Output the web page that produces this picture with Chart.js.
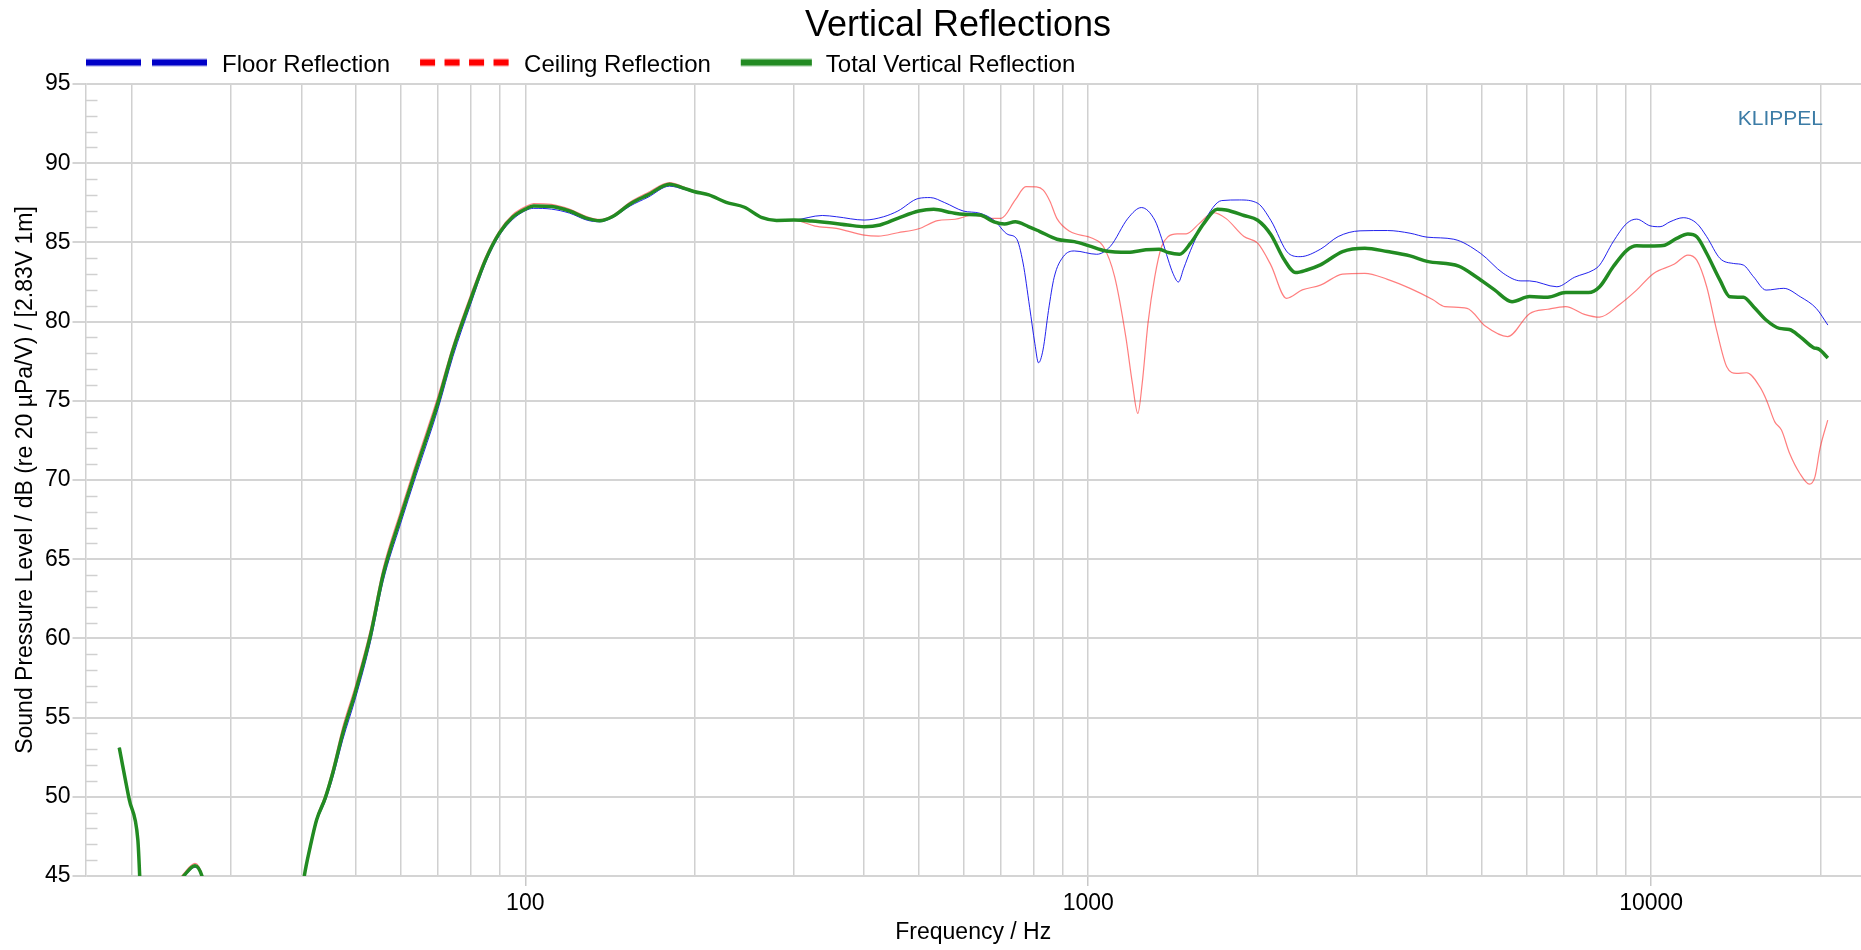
<!DOCTYPE html>
<html lang="en">
<head>
  <meta charset="UTF-8" />
  <title>Vertical Reflections</title>
  <script src="https://cdn.jsdelivr.net/npm/chart.js"></script>
  <style>
    html, body { margin: 0; padding: 0; background: #fff; }
    #wrap { width: 1861px; height: 950px; position: relative; }
  </style>
</head>
<body>
  <div id="wrap"><canvas id="chart"></canvas></div>

  <script>
    // values (Hz / dB)
    const floorHz = [19.0, 19.8, 20.5, 20.9, 23.6, 24.8, 25.9, 26.7, 27.5, 39.6, 40.5, 41.5, 42.6, 44.1, 45.5, 47.4, 50, 53.1, 55.9, 60, 64, 70, 74.4, 80, 85, 90, 95, 100, 103.5, 111.3, 119.8, 128.8, 135.6, 142.7, 153.6, 165.2, 180.4, 191.3, 200, 211.9, 227.5, 245.1, 263.5, 279.5, 300, 337, 357, 400, 433, 459, 500, 524, 556, 600, 642, 680, 720, 745, 766, 787, 804, 816, 831, 850, 870, 903, 945, 1035, 1094, 1177, 1243, 1313, 1350, 1387, 1414, 1446, 1478, 1520, 1605, 1726, 1856, 2000, 2110, 2270, 2380, 2585, 2780, 3040, 3400, 3730, 4000, 4460, 4980, 5460, 5870, 6080, 6800, 7310, 7900, 8100, 8560, 9050, 9420, 9950, 10370, 10800, 11400, 12050, 12550, 13250, 14000, 14580, 15200, 16000, 17200, 18400, 19650, 20600];
    const floorDb = [53.1, 49.8, 47.3, 42.0, 43.9, 44.95, 45.55, 44.85, 42.5, 42.5, 44.9, 46.7, 48.4, 49.7, 51.2, 53.6, 56.3, 59.8, 63.6, 67.2, 70.3, 74.5, 77.8, 81.1, 83.7, 85.45, 86.45, 87.0, 87.15, 87.1, 86.85, 86.4, 86.3, 86.55, 87.3, 87.85, 88.55, 88.35, 88.15, 87.97, 87.5, 87.2, 86.55, 86.39, 86.41, 86.7, 86.62, 86.41, 86.62, 86.98, 87.78, 87.83, 87.51, 86.98, 86.84, 86.4, 85.5, 85.26, 83.7, 80.9, 78.6, 77.4, 78.2, 80.7, 82.8, 84.1, 84.46, 84.25, 84.74, 86.53, 87.2, 86.4, 85.26, 83.9, 83.05, 82.5, 83.37, 84.5, 86.3, 87.64, 87.68, 87.47, 86.4, 84.3, 84.1, 84.57, 85.37, 85.73, 85.75, 85.58, 85.33, 85.2, 84.3, 83.05, 82.57, 82.57, 82.2, 82.8, 83.26, 83.57, 85.04, 86.2, 86.47, 86.05, 85.99, 86.3, 86.56, 86.2, 85.36, 83.99, 83.67, 83.57, 82.83, 81.99, 82.1, 81.57, 80.83, 79.78];

    const ceilingHz = [19.0, 19.8, 20.5, 20.9, 23.6, 24.8, 25.9, 26.7, 27.5, 39.6, 40.5, 41.5, 42.6, 44.1, 45.5, 47.4, 50, 53.1, 55.9, 60, 64, 70, 74.4, 80, 85, 90, 95, 100, 103.5, 111.3, 119.8, 128.8, 135.6, 142.7, 153.6, 165.2, 180.4, 191.3, 200, 211.9, 227.5, 245.1, 263.5, 279.5, 300, 327, 357, 400, 424, 459, 500, 540, 580, 625, 670, 700, 742, 775, 809, 832, 855, 880, 927, 1017, 1064, 1114, 1166, 1198, 1225, 1247, 1277, 1313, 1350, 1387, 1439, 1493, 1576, 1668, 1758, 1891, 2000, 2110, 2250, 2400, 2585, 2830, 3100, 3400, 3730, 4090, 4300, 4710, 5080, 5560, 6080, 6550, 7050, 7610, 8100, 8800, 9420, 10100, 11000, 11620, 12050, 12550, 13070, 13620, 14180, 14780, 15600, 16030, 16580, 17040, 17620, 18370, 19100, 19540, 19950, 20590];
    const ceilingDb = [53.1, 49.8, 47.3, 42.0, 44.2, 45.2, 45.8, 45.0, 42.5, 42.5, 45.1, 47.0, 48.7, 50.1, 51.8, 54.4, 57.1, 60.6, 64.4, 68.0, 71.1, 75.3, 78.5, 81.7, 84.1, 85.75, 86.75, 87.25, 87.45, 87.4, 87.1, 86.62, 86.45, 86.7, 87.55, 88.15, 88.78, 88.5, 88.25, 88.03, 87.55, 87.24, 86.57, 86.39, 86.41, 86.03, 85.89, 85.46, 85.4, 85.61, 85.86, 86.37, 86.46, 86.73, 86.52, 86.52, 87.68, 88.52, 88.5, 88.3, 87.6, 86.5, 85.7, 85.26, 84.74, 82.84, 79.05, 76.1, 74.2, 76.1, 79.9, 82.84, 84.74, 85.37, 85.54, 85.54, 86.2, 86.88, 86.5, 85.37, 84.95, 83.58, 81.47, 82.0, 82.3, 83.0, 83.05, 82.67, 82.1, 81.4, 80.95, 80.84, 79.7, 79.05, 80.5, 80.78, 80.95, 80.46, 80.28, 81.1, 81.99, 83.04, 83.63, 84.2, 83.88, 82.2, 79.46, 77.15, 76.73, 76.77, 75.88, 75.04, 73.67, 73.15, 71.67, 70.41, 69.74, 70.2, 71.99, 73.78];

    const totalHz = [19.0, 19.8, 20.5, 20.9, 23.6, 24.8, 25.9, 26.7, 27.5, 39.6, 40.5, 41.5, 42.6, 44.1, 45.5, 47.4, 50, 53.1, 55.9, 60, 64, 70, 74.4, 80, 85, 90, 95, 100, 103.5, 111.3, 119.8, 128.8, 135.6, 142.7, 153.6, 165.2, 180.4, 191.3, 200, 211.9, 227.5, 245.1, 263.5, 279.5, 300, 323, 347.5, 373.9, 400, 426.9, 458.7, 500, 531.5, 571.8, 600, 642, 680, 710, 742, 783, 819, 880, 945, 1000, 1074, 1177, 1266, 1337, 1387, 1452, 1520, 1605, 1695, 1758, 1891, 2000, 2110, 2230, 2335, 2445, 2585, 2830, 3100, 3400, 3730, 4000, 4550, 4900, 5270, 5660, 6080, 6550, 7050, 7740, 8100, 8560, 9050, 9420, 9950, 10500, 11100, 11620, 12050, 12550, 13250, 13800, 14580, 15200, 16000, 16900, 17600, 18400, 19400, 19900, 20600];
    const totalDb = [53.1, 49.8, 47.3, 42.0, 44.0, 45.05, 45.65, 44.9, 42.5, 42.5, 45.0, 46.85, 48.55, 49.9, 51.5, 54.0, 56.7, 60.2, 64.0, 67.6, 70.7, 74.9, 78.2, 81.4, 83.9, 85.6, 86.6, 87.1, 87.3, 87.26, 86.98, 86.52, 86.37, 86.62, 87.43, 88.0, 88.67, 88.42, 88.2, 88.0, 87.53, 87.22, 86.56, 86.39, 86.41, 86.35, 86.24, 86.1, 85.99, 86.1, 86.52, 86.98, 87.09, 86.88, 86.77, 86.73, 86.3, 86.16, 86.3, 86.0, 85.7, 85.2, 85.05, 84.8, 84.46, 84.38, 84.53, 84.57, 84.36, 84.25, 84.95, 86.2, 87.1, 87.05, 86.7, 86.4, 85.5, 83.9, 83.1, 83.26, 83.58, 84.42, 84.63, 84.42, 84.15, 83.8, 83.5, 82.8, 82.0, 81.26, 81.58, 81.54, 81.83, 81.83, 82.2, 83.46, 84.5, 84.79, 84.77, 84.8, 85.25, 85.53, 85.36, 84.3, 82.62, 81.57, 81.53, 80.94, 80.1, 79.57, 79.5, 79.04, 78.37, 78.24, 77.7];

    const xGridHz = [20, 30, 40, 50, 60, 70, 80, 90, 100, 200, 300, 400, 500, 600, 700, 800, 900, 1000, 2000, 3000, 4000, 5000, 6000, 7000, 8000, 9000, 10000, 20000];
    const xLabelHz = [100, 1000, 10000];
    const yTicks = [45, 50, 55, 60, 65, 70, 75, 80, 85, 90, 95];

    const seriesNames = ['Floor Reflection', 'Ceiling Reflection', 'Total Vertical Reflection'];

    Chart.defaults.font.family = "'Liberation Sans', Arial, sans-serif";
    Chart.defaults.color = '#000';

    const pts = (hz, db) => hz.map((f, i) => ({ x: f, y: db[i] }));

    // title, legend, logo text and the 1 dB minor ticks
    const decor = {
      id: 'decor',
      beforeDatasetsDraw(chart) {
        const { ctx, chartArea, scales } = chart;
        ctx.save();
        ctx.strokeStyle = '#d0d0d0';
        ctx.lineWidth = 1.5;
        for (let v = 46; v < 95; v++) {
          if (v % 5 === 0) continue;
          const py = Math.round(scales.y.getPixelForValue(v)) + 0.5;
          ctx.beginPath();
          ctx.moveTo(chartArea.left, py);
          ctx.lineTo(chartArea.left + 12, py);
          ctx.stroke();
        }
        ctx.restore();
      },
      afterDraw(chart) {
        const { ctx } = chart;
        ctx.save();
        ctx.fillStyle = '#000';
        ctx.textAlign = 'center';
        ctx.textBaseline = 'alphabetic';
        ctx.font = "36px 'Liberation Sans', Arial, sans-serif";
        ctx.fillText('Vertical Reflections', 958, 36);

        // legend
        const items = [
          { color: '#0000c8', halo: 'rgba(0,0,200,0.25)', dash: [55, 11], w: 122 },
          { color: '#ff0000', halo: 'rgba(255,0,0,0.25)', dash: [15, 9.5], w: 90 },
          { color: '#228b22', halo: 'rgba(34,139,34,0.3)', dash: [], w: 71 }
        ];
        ctx.font = "24px 'Liberation Sans', Arial, sans-serif";
        ctx.textAlign = 'left';
        let x = 86;
        const ly = 62.5;
        items.forEach((it, i) => {
          ctx.setLineDash(it.dash);
          ctx.lineCap = 'butt';
          ctx.strokeStyle = it.halo;
          ctx.lineWidth = 8.5;
          ctx.beginPath(); ctx.moveTo(x, ly); ctx.lineTo(x + it.w, ly); ctx.stroke();
          ctx.strokeStyle = it.color;
          ctx.lineWidth = 6;
          ctx.beginPath(); ctx.moveTo(x, ly); ctx.lineTo(x + it.w, ly); ctx.stroke();
          ctx.setLineDash([]);
          const tx = x + it.w + 14;
          ctx.fillStyle = '#000';
          ctx.fillText(seriesNames[i], tx, 71.5);
          x = tx + ctx.measureText(seriesNames[i]).width + 30;
        });

        ctx.font = "21px 'Liberation Sans', Arial, sans-serif";
        ctx.textAlign = 'right';
        ctx.fillStyle = '#3c7ca6';
        ctx.fillText('KLIPPEL', 1823, 125);
        ctx.restore();
      }
    };

    new Chart(document.getElementById('chart'), {
      type: 'line',
      data: {
        datasets: [
          {
            label: seriesNames[0],
            data: pts(floorHz, floorDb),
            borderColor: 'rgba(10,10,235,0.9)',
            borderWidth: 1,
            order: 1
          },
          {
            label: seriesNames[1],
            data: pts(ceilingHz, ceilingDb),
            borderColor: 'rgba(255,40,40,0.6)',
            borderWidth: 1.2,
            order: 2
          },
          {
            label: seriesNames[2],
            data: pts(totalHz, totalDb),
            borderColor: '#228b22',
            borderWidth: 3.5,
            order: 0
          }
        ]
      },
      options: {
        responsive: true,
        maintainAspectRatio: false,
        animation: false,
        layout: { padding: { top: 84, left: 0, right: 0, bottom: 0 } },
        elements: {
          point: { radius: 0 },
          line: { cubicInterpolationMode: 'monotone', borderJoinStyle: 'round', fill: false }
        },
        plugins: {
          legend: { display: false },
          title: { display: false },
          tooltip: { enabled: false }
        },
        scales: {
          x: {
            type: 'logarithmic',
            min: 16.55,
            max: 23590,
            bounds: 'data',
            afterBuildTicks: s => { s.ticks = xGridHz.map(v => ({ value: v })); },
            afterFit: s => { s.height = 74; },
            ticks: {
              autoSkip: false,
              maxRotation: 0,
              padding: 4,
              font: { size: 23 },
              callback: v => xLabelHz.includes(v) ? String(v) : ''
            },
            grid: {
              color: '#d0d0d0',
              lineWidth: 1.5,
              tickLength: 10,
              tickColor: c => (c.tick && xLabelHz.includes(c.tick.value)) ? '#c8c8c8' : 'rgba(0,0,0,0)'
            },
            border: { display: false },
            title: {
              display: true,
              text: 'Frequency / Hz',
              font: { size: 23 },
              padding: { top: 0, bottom: 4 }
            }
          },
          y: {
            min: 45,
            max: 95,
            afterBuildTicks: s => { s.ticks = yTicks.map(v => ({ value: v })); },
            afterFit: s => { s.width = 85.5; },
            ticks: { padding: 2, font: { size: 23 } },
            grid: { color: '#d4d4d4', lineWidth: 2, tickLength: 13 },
            border: { display: true, color: '#d0d0d0', width: 1.5 },
            title: {
              display: true,
              text: 'Sound Pressure Level / dB (re 20 µPa/V) / [2.83V 1m]',
              font: { size: 23 },
              padding: { top: 12, bottom: 0 }
            }
          }
        }
      },
      plugins: [decor]
    });
  </script>
</body>
</html>
